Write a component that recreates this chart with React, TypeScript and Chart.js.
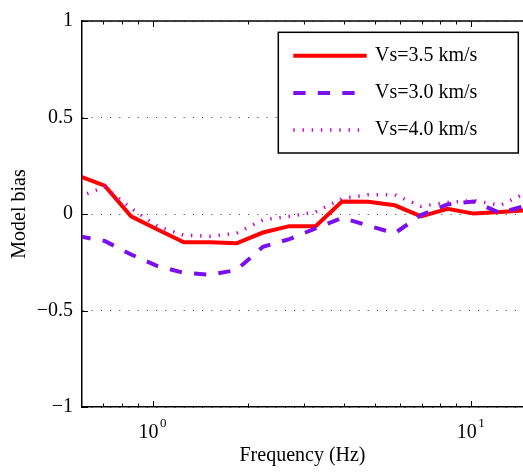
import React, { useEffect, useRef } from 'react';
import { Chart, registerables } from 'chart.js';

Chart.register(...registerables);

// Frequencies (Hz) of the plotted points
const freqs = [0.585, 0.707, 0.856, 1.036, 1.254, 1.517, 1.836, 2.222, 2.689, 3.253, 3.937, 4.765, 5.767, 6.978, 8.445, 10.22, 12.37, 14.97];
// Model bias series
const vs35 = [0.198, 0.147, -0.012, -0.08, -0.147, -0.147, -0.152, -0.096, -0.063, -0.063, 0.065, 0.063, 0.045, -0.012, 0.027, 0.002, 0.01, 0.02];
const vs30 = [-0.115, -0.14, -0.21, -0.27, -0.305, -0.315, -0.29, -0.17, -0.13, -0.075, -0.02, -0.06, -0.1, -0.005, 0.05, 0.065, 0.005, 0.045];
const vs40 = [0.089, 0.14, 0.03, -0.064, -0.11, -0.115, -0.1, -0.03, -0.012, 0.01, 0.08, 0.1, 0.1, 0.04, 0.06, 0.07, 0.045, 0.11];
const seriesLabels = ['Vs=3.5 km/s', 'Vs=3.0 km/s', 'Vs=4.0 km/s'];

// Axes
const xMin = 0.603;
const xMax = 14.59;
const xMajorTicks = [1, 10];
const xMajorBase = '10';
const xMajorExponents = ['0', '1'];
const xMinorTicks = [0.7, 0.8, 0.9, 2, 3, 4, 5, 6, 7, 8, 9];
const yTicks = [-1, -0.5, 0, 0.5, 1];
const yTickLabels = ['\u22121', '\u22120.5', '0', '0.5', '1'];
const xTitle = 'Frequency (Hz)';
const yTitle = 'Model bias';

const FONT = '"Liberation Serif", "Times New Roman", serif';

const framePlugin = {
  id: 'matlabFrame',
  afterDraw(chart: any) {
    const { ctx, chartArea } = chart;
    const { left, right, top, bottom } = chartArea;
    const xs = chart.scales.x;
    const ys = chart.scales.y;
    ctx.save();
    // top border
    ctx.strokeStyle = '#000';
    ctx.lineWidth = 1.5;
    ctx.beginPath();
    ctx.moveTo(left, top);
    ctx.lineTo(right + 2, top);
    ctx.stroke();
    // ticks
    ctx.lineWidth = 1;
    const tick = (v: number, len: number) => {
      const px = Math.round(xs.getPixelForValue(v)) + 0.5;
      ctx.beginPath();
      ctx.moveTo(px, bottom);
      ctx.lineTo(px, bottom - len);
      ctx.moveTo(px, top);
      ctx.lineTo(px, top + len);
      ctx.stroke();
    };
    xMajorTicks.forEach((v) => tick(v, 6));
    xMinorTicks.forEach((v) => tick(v, 3.5));
    yTicks.forEach((v) => {
      const py = Math.round(ys.getPixelForValue(v)) + 0.5;
      ctx.beginPath();
      ctx.moveTo(left, py);
      ctx.lineTo(left + 6, py);
      ctx.stroke();
    });

    // x major tick labels with superscript exponents
    ctx.fillStyle = '#000';
    ctx.textAlign = 'left';
    ctx.textBaseline = 'alphabetic';
    xMajorTicks.forEach((v, i) => {
      const px = xs.getPixelForValue(v);
      ctx.font = '20px ' + FONT;
      const wBase = ctx.measureText(xMajorBase).width;
      ctx.font = '13px ' + FONT;
      const wExp = ctx.measureText(xMajorExponents[i]).width;
      const total = wBase + 1.5 + wExp;
      const x0 = px - total / 2;
      ctx.font = '20px ' + FONT;
      ctx.fillText(xMajorBase, x0, bottom + 31);
      ctx.font = '13px ' + FONT;
      ctx.fillText(xMajorExponents[i], x0 + wBase + 1.5, bottom + 20);
    });

    // legend
    const bx = right - 244.7;
    const by = top + 11.3;
    const bw = 240;
    const bh = 120.7;
    ctx.fillStyle = '#fff';
    ctx.fillRect(bx, by, bw, bh);
    ctx.strokeStyle = '#000';
    ctx.lineWidth = 1.5;
    ctx.strokeRect(bx, by, bw, bh);
    ctx.font = '20px ' + FONT;
    ctx.textBaseline = 'middle';
    ctx.textAlign = 'left';
    chart.data.datasets.forEach((ds: any, i: number) => {
      const cy = by + 23.4 + i * 37.2;
      ctx.save();
      ctx.strokeStyle = ds.borderColor;
      ctx.lineWidth = ds.borderWidth;
      ctx.setLineDash(ds.borderDash || []);
      ctx.beginPath();
      ctx.moveTo(bx + 15, cy);
      ctx.lineTo(bx + 88.4, cy);
      ctx.stroke();
      ctx.restore();
      ctx.fillStyle = '#000';
      ctx.fillText(ds.label, bx + 96.7, cy);
    });
    ctx.restore();
  },
};

export default function App() {
  const canvasRef = useRef<HTMLCanvasElement>(null);

  useEffect(() => {
    const canvas = canvasRef.current;
    if (!canvas) return;
    const toPts = (arr: number[]) => freqs.map((f, i) => ({ x: f, y: arr[i] }));
    const chart = new Chart(canvas, {
      type: 'line',
      data: {
        datasets: [
          {
            label: seriesLabels[0],
            data: toPts(vs35),
            borderColor: '#ff0000',
            borderWidth: 4,
            borderDash: [],
            pointRadius: 0,
            tension: 0,
            order: 3,
          },
          {
            label: seriesLabels[1],
            data: toPts(vs30),
            borderColor: '#7a10ee',
            borderWidth: 4,
            borderDash: [12.3, 12.2],
            pointRadius: 0,
            tension: 0,
            order: 2,
          },
          {
            label: seriesLabels[2],
            data: toPts(vs40),
            borderColor: '#c800d2',
            borderWidth: 3.5,
            borderDash: [1.4, 7.8],
            pointRadius: 0,
            tension: 0,
            order: 1,
          },
        ],
      },
      options: {
        responsive: false,
        animation: false,
        devicePixelRatio: 1,
        layout: { padding: { top: 17, right: 0, left: 0, bottom: 0 } },
        plugins: {
          legend: { display: false },
          tooltip: { enabled: false },
        },
        scales: {
          x: {
            type: 'logarithmic',
            min: xMin,
            max: xMax,
            afterBuildTicks: (scale: any) => {
              scale.ticks = xMajorTicks.map((v) => ({ value: v }));
            },
            afterFit: (scale: any) => {
              scale.height = 66;
            },
            grid: { display: false, drawTicks: false },
            border: { display: true, color: '#000', width: 1.5 },
            ticks: { display: false },
            title: {
              display: true,
              text: xTitle,
              color: '#000',
              font: { family: FONT, size: 20 },
              padding: { top: 0, bottom: 5 },
            },
          },
          y: {
            type: 'linear',
            min: -1,
            max: 1,
            afterBuildTicks: (scale: any) => {
              scale.ticks = yTicks.map((v) => ({ value: v }));
            },
            afterFit: (scale: any) => {
              scale.width = 82;
            },
            grid: {
              display: true,
              drawTicks: false,
              color: '#333',
              lineWidth: 1,
            },
            border: { display: true, color: '#000', width: 1.5, dash: [1, 8.2] },
            ticks: {
              color: '#000',
              font: { family: FONT, size: 20 },
              padding: 9,
              callback: (value: any) => {
                const idx = yTicks.indexOf(Number(value));
                return idx >= 0 ? yTickLabels[idx] : '';
              },
            },
            title: {
              display: true,
              text: yTitle,
              color: '#000',
              font: { family: FONT, size: 20 },
              padding: { top: 8, bottom: 0 },
            },
          },
        },
      },
      plugins: [framePlugin],
    } as any);
    return () => chart.destroy();
  }, []);

  return (
    <div style={{ position: 'absolute', left: 0, top: 0, width: 523, height: 473, overflow: 'hidden', background: '#fff' }}>
      <canvas ref={canvasRef} width={523} height={473} style={{ display: 'block' }} />
    </div>
  );
}
